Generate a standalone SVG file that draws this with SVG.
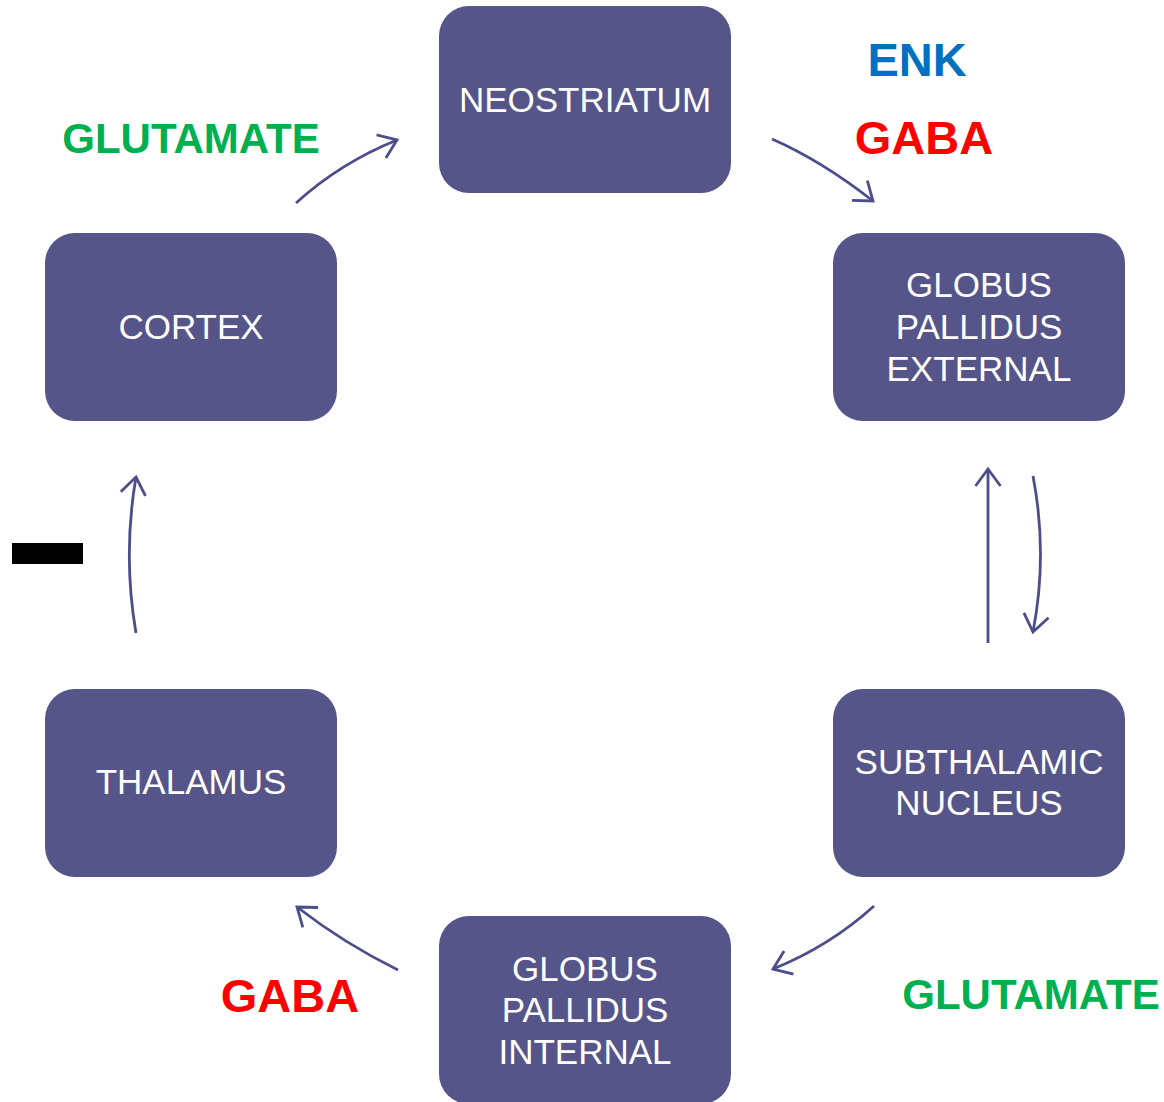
<svg xmlns="http://www.w3.org/2000/svg" width="1164" height="1102" viewBox="0 0 1164 1102">
  <style>
    .node { fill: #555589; }
    .nt { fill: #ffffff; font-family: "Liberation Sans", Arial, sans-serif; font-size: 35px; text-anchor: middle; }
    .lbl { font-family: "Liberation Sans", Arial, sans-serif; font-weight: bold; text-anchor: middle; }
    .glu { fill: #00B050; font-size: 42px; }
    .gaba { fill: #FF0000; font-size: 47px; }
    .enk { fill: #0070C0; font-size: 47px; }
    .conn { fill: none; stroke: #4D4D8B; stroke-width: 2.8; marker-end: url(#chev); }
  </style>
  <defs>
    <marker id="chev" markerUnits="userSpaceOnUse" viewBox="-22 -16 26 32" markerWidth="26" markerHeight="32" refX="0" refY="0" orient="auto" overflow="visible">
      <path d="M-17,-12.5 L0,0 L-17,12.5" fill="none" stroke="#4D4D8B" stroke-width="2.8" stroke-linejoin="miter"/>
    </marker>
  </defs>
  <rect width="1164" height="1102" fill="#ffffff"/>

  <g id="connectors">
    <path class="conn" d="M296,203 Q340,163 397,140"/>
    <path class="conn" d="M772,139 Q822,161 873,201"/>
    <path class="conn" d="M1033,476 Q1048,554 1033,632"/>
    <path class="conn" d="M988,643 L988,469"/>
    <path class="conn" d="M874,906 Q830,946 773,969"/>
    <path class="conn" d="M398,970 Q345,944 297,907"/>
    <path class="conn" d="M136,633 Q122.6,555 136,477"/>
  </g>

  <g id="neostriatum">
    <rect class="node" x="439" y="6" width="292" height="187" rx="30"/>
    <text class="nt" x="585" y="112">NEOSTRIATUM</text>
  </g>
  <g id="cortex">
    <rect class="node" x="45" y="233" width="292" height="188" rx="30"/>
    <text class="nt" x="191" y="339">CORTEX</text>
  </g>
  <g id="gpe">
    <rect class="node" x="833" y="233" width="292" height="188" rx="30"/>
    <text class="nt" x="979" y="297">GLOBUS</text>
    <text class="nt" x="979" y="339">PALLIDUS</text>
    <text class="nt" x="979" y="381">EXTERNAL</text>
  </g>
  <g id="stn">
    <rect class="node" x="833" y="689" width="292" height="188" rx="30"/>
    <text class="nt" x="979" y="774">SUBTHALAMIC</text>
    <text class="nt" x="979" y="815">NUCLEUS</text>
  </g>
  <g id="thalamus">
    <rect class="node" x="45" y="689" width="292" height="188" rx="30"/>
    <text class="nt" x="191" y="794">THALAMUS</text>
  </g>
  <g id="gpi">
    <rect class="node" x="439" y="916" width="292" height="188" rx="30"/>
    <text class="nt" x="585" y="981">GLOBUS</text>
    <text class="nt" x="585" y="1022">PALLIDUS</text>
    <text class="nt" x="585" y="1064">INTERNAL</text>
  </g>

  <g id="labels">
    <text class="lbl glu" x="191" y="153">GLUTAMATE</text>
    <text class="lbl enk" x="917" y="76">ENK</text>
    <text class="lbl gaba" x="924" y="154">GABA</text>
    <text class="lbl gaba" x="290" y="1012">GABA</text>
    <text class="lbl glu" x="1031" y="1009">GLUTAMATE</text>
    <rect x="12" y="543" width="71" height="21" fill="#000000"/>
  </g>
</svg>
